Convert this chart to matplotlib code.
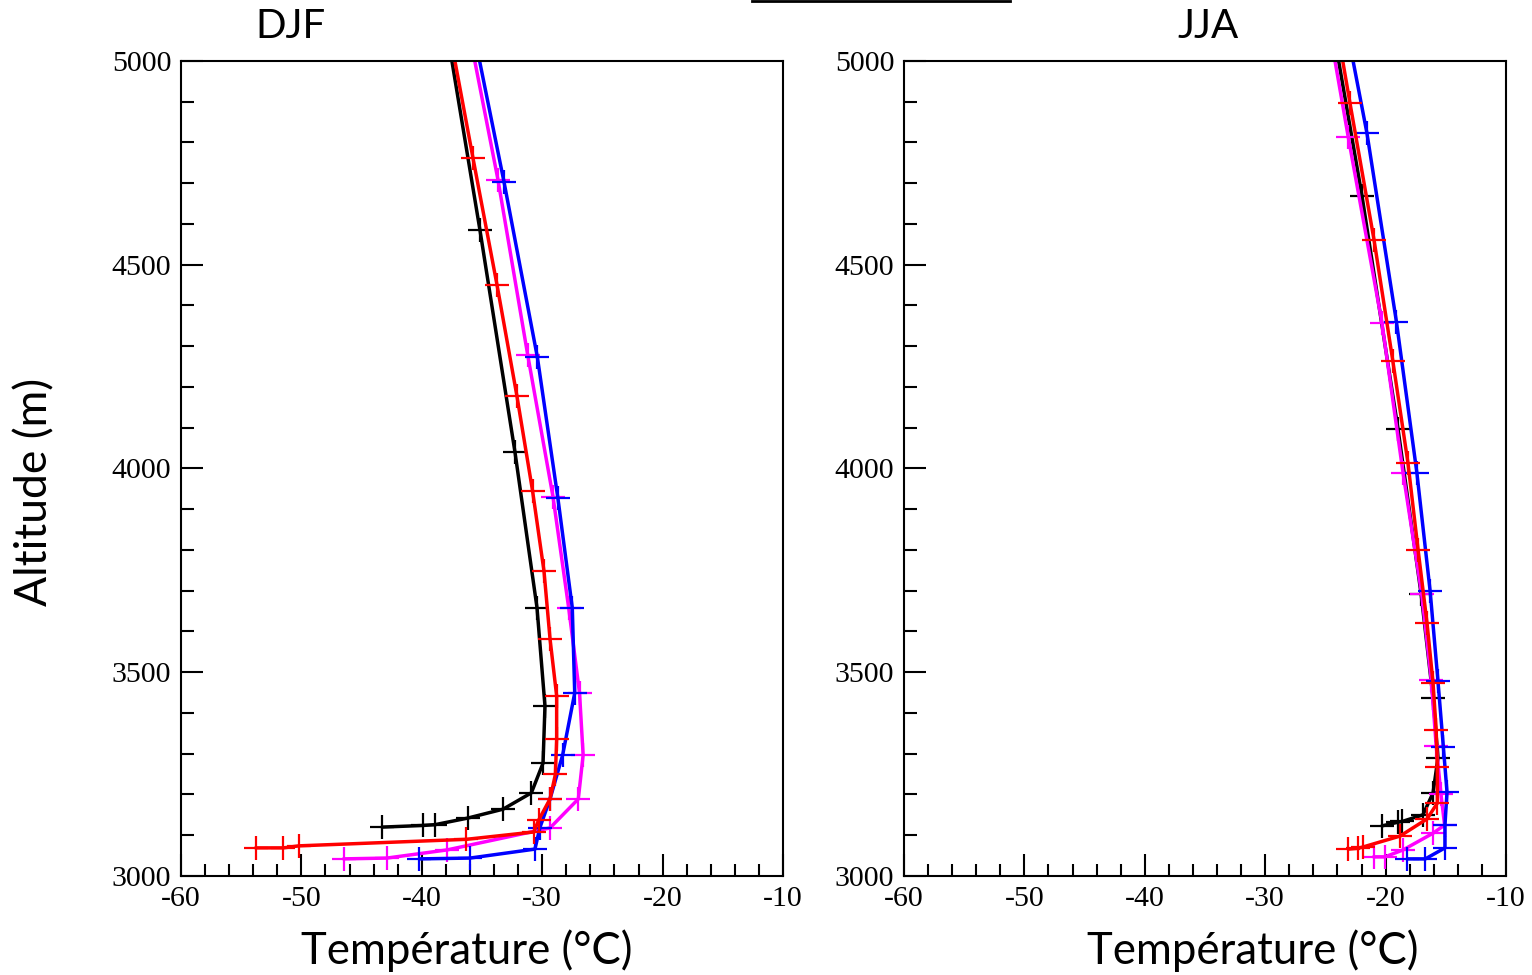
import numpy as np
import matplotlib.pyplot as plt
from matplotlib.lines import Line2D
from matplotlib.ticker import MultipleLocator

plt.rcParams['axes.unicode_minus'] = False

# DJF profiles (temperature in degC, altitude in m)
djf_black_t = [-43.3, -39.9, -38.9, -36.2, -33.25, -30.9, -29.93, -29.77, -30.43, -32.26, -35.17, -37.5]
djf_black_z = [3120, 3124, 3126, 3142, 3164, 3204, 3277, 3417, 3658, 4040, 4585, 5000]
djf_magenta_t = [-46.5, -42.9, -37.9, -29.35, -27.0, -26.6, -26.9, -27.8, -29.1, -31.2, -33.67, -35.6]
djf_magenta_z = [3042, 3044, 3064, 3118, 3189, 3297, 3449, 3658, 3930, 4278, 4708, 5000]
djf_blue_t = [-40.2, -36.0, -30.6, -30.2, -29.35, -28.3, -27.3, -27.5, -28.7, -30.4, -33.17, -35.2]
djf_blue_z = [3042, 3044, 3066, 3118, 3189, 3297, 3449, 3658, 3928, 4273, 4703, 5000]
djf_red_t = [-53.8, -51.5, -50.2, -36.3, -30.7, -30.3, -29.35, -28.9, -28.8, -28.8, -29.35, -29.85, -30.8, -32.1, -33.75, -35.75, -37.25]
djf_red_z = [3069, 3069, 3074, 3090, 3108, 3137, 3189, 3250, 3336, 3442, 3582, 3748, 3945, 4178, 4450, 4762, 5000]

# JJA profiles
jja_black_t = [-20.3, -18.97, -18.6, -16.9, -16.06, -15.65, -16.06, -17.05, -18.97, -21.96, -23.9]
jja_black_z = [3123, 3132, 3134, 3150, 3204, 3290, 3437, 3692, 4097, 4669, 5000]
jja_magenta_t = [-21.0, -20.05, -18.55, -16.06, -15.1, -15.4, -15.8, -16.2, -17.0, -18.55, -20.3, -23.1, -24.2]
jja_magenta_z = [3047, 3047, 3064, 3105, 3125, 3200, 3320, 3480, 3692, 3989, 4357, 4813, 5000]
jja_blue_t = [-18.2, -16.7, -15.07, -15.07, -14.9, -15.2, -15.65, -16.3, -17.4, -19.1, -21.55, -22.7]
jja_blue_z = [3042, 3042, 3069, 3125, 3206, 3316, 3478, 3699, 3989, 4360, 4823, 5000]
jja_red_t = [-23.1, -22.3, -21.9, -18.8, -16.56, -15.7, -15.7, -15.8, -16.06, -16.56, -17.3, -18.14, -19.4, -20.96, -22.96, -23.56]
jja_red_z = [3066, 3068, 3071, 3098, 3140, 3179, 3268, 3358, 3474, 3621, 3800, 4013, 4264, 4561, 4897, 5000]

seasons = ["DJF", "JJA"]
xticks = [-60, -50, -40, -30, -20, -10]
yticks = [3000, 3500, 4000, 4500, 5000]

fig = plt.figure(figsize=(15.32, 9.75), dpi=100)
W, H = 1532, 975
ax1 = fig.add_axes([181 / W, 1 - 876 / H, 602 / W, 815 / H])
ax2 = fig.add_axes([904 / W, 1 - 876 / H, 602 / W, 815 / H])

profiles = {
    ax1: [(djf_black_t, djf_black_z, "black"), (djf_magenta_t, djf_magenta_z, "#ff00ff"),
          (djf_blue_t, djf_blue_z, "#0000ff"), (djf_red_t, djf_red_z, "#ff0000")],
    ax2: [(jja_black_t, jja_black_z, "black"), (jja_magenta_t, jja_magenta_z, "#ff00ff"),
          (jja_blue_t, jja_blue_z, "#0000ff"), (jja_red_t, jja_red_z, "#ff0000")],
}

for ax, lines in profiles.items():
    for t, z, c in lines:
        ax.plot(t, z, color=c, lw=2.5, marker="+", markersize=17, mew=1.6,
                markevery=slice(0, -1), solid_capstyle="round")
    ax.set_xlim(-60, -10)
    ax.set_ylim(3000, 5000)
    ax.set_xticks(xticks)
    ax.set_yticks(yticks)
    ax.xaxis.set_minor_locator(MultipleLocator(2))
    ax.yaxis.set_minor_locator(MultipleLocator(100))
    ax.tick_params(which="both", direction="in", top=False, right=False, width=1.5)
    ax.tick_params(which="major", length=16, pad=7)
    ax.tick_params(which="minor", length=9)
    for lab in ax.get_xticklabels() + ax.get_yticklabels():
        lab.set_fontfamily("Liberation Serif")
        lab.set_fontsize(21.5)
    for s in ax.spines.values():
        s.set_linewidth(1.5)

sans = "Lato"
fig.text(290 / W, 1 - 27 / H, seasons[0], ha="center", va="center", fontsize=29, family=sans)
fig.text(1208 / W, 1 - 27 / H, seasons[1], ha="center", va="center", fontsize=29, family=sans)
fig.text(35 / W, 1 - 492 / H, "Altitude (m)", rotation=90, ha="center", va="center", fontsize=32, family=sans)
fig.text(467 / W, 1 - 951 / H, "Température (°C)", ha="center", va="center", fontsize=31.5, family=sans)
fig.text(1253 / W, 1 - 951 / H, "Température (°C)", ha="center", va="center", fontsize=31.5, family=sans)

fig.add_artist(Line2D([752 / W, 1010 / W], [1 - 1 / H, 1 - 1 / H], color="black", lw=2,
                      transform=fig.transFigure))

fig.savefig("out.png", dpi=100)
